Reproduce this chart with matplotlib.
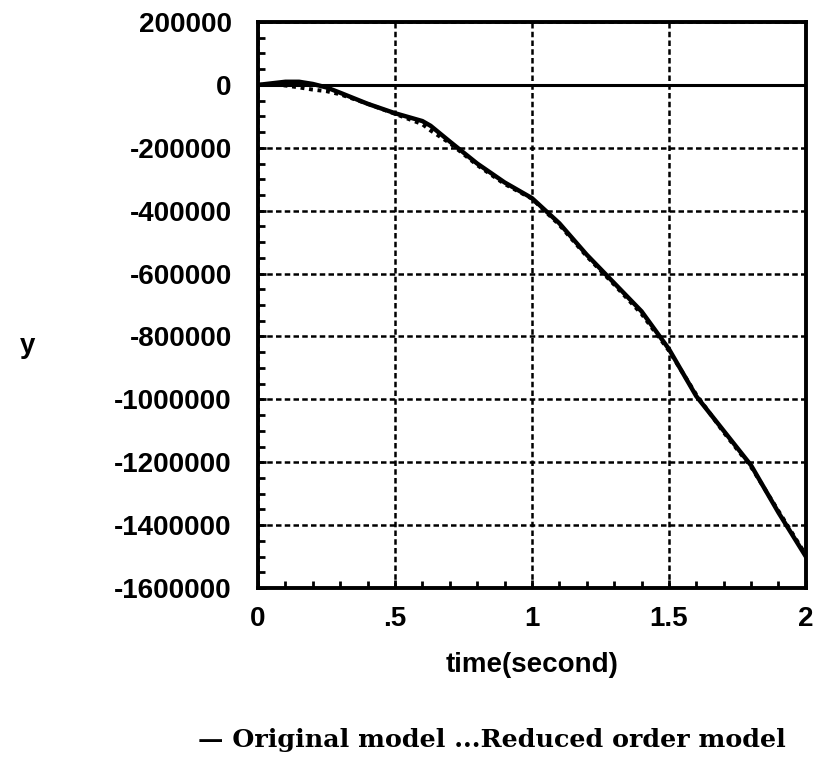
import numpy as np
import matplotlib.pyplot as plt
from matplotlib.ticker import MultipleLocator

# ============================== Data =========================================
t = [0, 0.05, 0.1, 0.15, 0.2, 0.25, 0.3, 0.4, 0.5, 0.6, 0.63, 0.7, 0.8, 0.9,
     1.0, 1.1, 1.2, 1.3, 1.4, 1.5, 1.6, 1.7, 1.8, 1.9, 2.0]

y_orig = [0, 5000, 10000, 10000, 3000, -8000, -25000, -60000, -90000, -115000,
          -130000, -180000, -250000, -310000, -360000, -440000, -540000,
          -630000, -720000, -840000, -990000, -1100000, -1210000, -1360000,
          -1500000]

y_red = [0, 2000, -2000, -8000, -15000, -20000, -30000, -60000, -92000,
         -125000, -145000, -185000, -255000, -315000, -362000, -445000,
         -545000, -635000, -728000, -845000, -985000, -1105000, -1215000,
         -1355000, -1495000]

xticks = [0, 0.5, 1, 1.5, 2]
xtick_labels = ['0', '.5', '1', '1.5', '2']
yticks = [200000, 0, -200000, -400000, -600000, -800000, -1000000,
          -1200000, -1400000, -1600000]
ytick_labels = [str(v) for v in yticks]

# ============================== Plot =========================================
plt.rcParams['font.family'] = ['Liberation Sans', 'DejaVu Sans']

fig = plt.figure(figsize=(8.14, 7.73), dpi=100)
ax = fig.add_axes([0.317, 0.2393, 0.673, 0.7322])

ax.plot(t, y_red, color='black', lw=2.8, ls=(0, (1, 1.2)))
ax.plot(t, y_orig, color='black', lw=3.2)
ax.axhline(0, color='black', lw=2.2)

ax.set_xlim(0, 2)
ax.set_ylim(-1600000, 200000)
ax.set_xticks(xticks)
ax.set_xticklabels(xtick_labels, fontsize=20, fontweight='bold')
ax.set_yticks(yticks)
ax.set_yticklabels(ytick_labels, fontsize=20, fontweight='bold')
ax.xaxis.set_minor_locator(MultipleLocator(0.1))
ax.yaxis.set_minor_locator(MultipleLocator(50000))
ax.tick_params(which='both', direction='in', top=False, right=False,
               width=2, color='black')
ax.tick_params(which='major', length=6)
ax.tick_params(which='minor', length=5)
ax.tick_params(axis='y', pad=19)
ax.tick_params(axis='x', pad=13)

ax.grid(True, which='major', color='black', lw=1.8, ls=(0, (2.2, 1.3)))

for s in ax.spines.values():
    s.set_linewidth(2.8)

ax.set_xlabel('time(second)', fontsize=20, fontweight='bold', labelpad=14)
fig.text(0.034, 0.553, 'y', fontsize=20, fontweight='bold',
         ha='center', va='center')

fig.text(0.604, 0.043, '\u2014 Original model ...Reduced order model',
         fontsize=18.3, fontweight='bold', family='DejaVu Serif',
         ha='center', va='center')

plt.savefig('out.png', dpi=100)
